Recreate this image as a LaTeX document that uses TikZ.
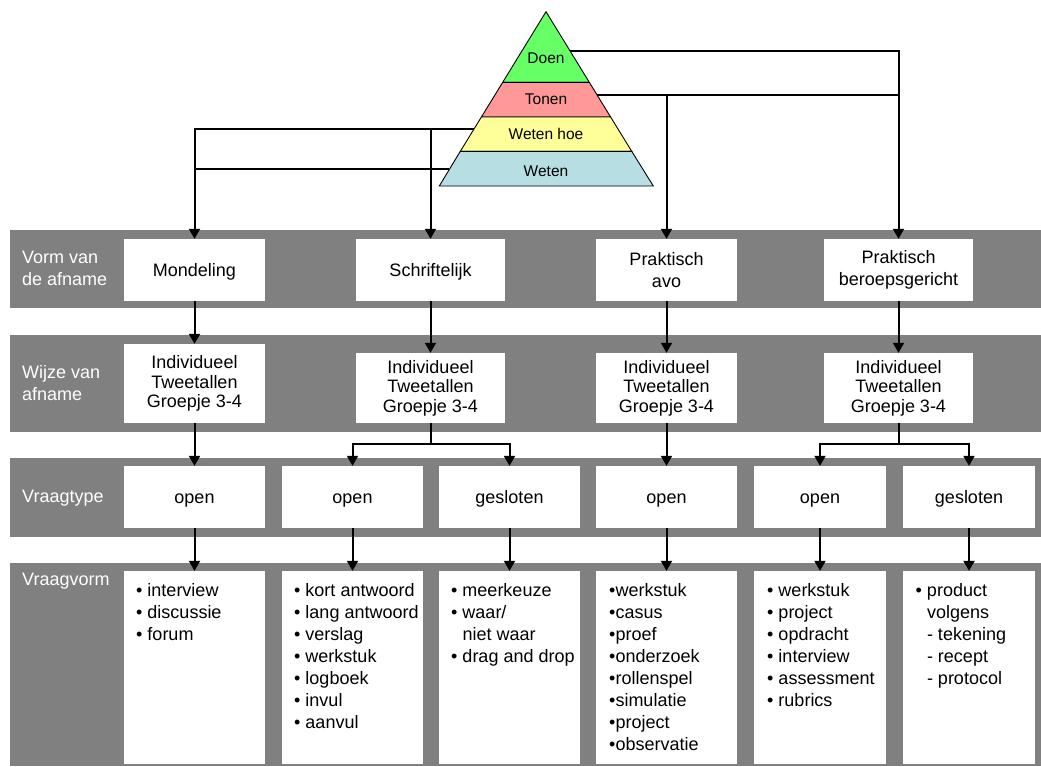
\documentclass[tikz,border=0pt]{standalone}
\usepackage{fontspec}
\setmainfont{Liberation Sans}
\usetikzlibrary{arrows.meta,calc}
\definecolor{bandgray}{RGB}{128,128,128}
\definecolor{doencol}{RGB}{102,255,102}
\definecolor{tonencol}{RGB}{255,153,153}
\definecolor{hoecol}{RGB}{255,255,153}
\definecolor{wetencol}{RGB}{183,222,226}
\begin{document}
\begin{tikzpicture}[x=1pt,y=-1pt,
  band/.style={fill=bandgray,draw=none},
  wbox/.style={fill=white,draw=none,inner sep=0pt,align=center,
    font=\fontsize{18}{22}\selectfont},
  wone/.style={wbox,text height=12.9pt,text depth=0pt},
  wbox2/.style={wbox,font=\fontsize{18}{19.5}\selectfont},
  lbl/.style={text=white,inner sep=0pt,align=left,anchor=west,
    font=\fontsize{18}{22}\selectfont},
  lst/.style={inner sep=0pt,align=left,anchor=north west,
    font=\fontsize{18}{22}\selectfont},
  pyr/.style={draw=black,line width=0.9pt,line join=miter},
  ptxt/.style={inner sep=0pt,font=\fontsize{15.5}{18}\selectfont},
  conn/.style={draw=black,line width=2pt},
  arr/.style={conn,-{Triangle[width=11pt,length=10pt]}}
]
\useasboundingbox (0,0) rectangle (1041,766);

% bands
\fill[band] (10,230) rectangle (1041,308);
\fill[band] (10,335) rectangle (1041,432);
\fill[band] (10,458) rectangle (1041,537);
\fill[band] (10,563) rectangle (1041,766);

% band labels
\node[lbl] (lab1) at (22,268) {Vorm van\\de afname};
\node[lbl] (lab2) at (22,383) {Wijze van\\afname};
\node[lbl] (lab3) at (22,498) {Vraagtype};
\node[lbl,anchor=north west] (lab4) at (22,573) {Vraagvorm};

% pyramid
\filldraw[pyr,fill=doencol] (546,11.7) -- (589.3,82.3) -- (502.7,82.3) -- cycle;
\filldraw[pyr,fill=tonencol] (502.7,82.3) -- (589.3,82.3) -- (610.6,117) -- (481.4,117) -- cycle;
\filldraw[pyr,fill=hoecol] (481.4,117) -- (610.6,117) -- (631.7,151.3) -- (460.3,151.3) -- cycle;
\filldraw[pyr,fill=wetencol] (460.3,151.3) -- (631.7,151.3) -- (653.3,186) -- (439.3,186) -- cycle;
\node[ptxt] (pdoen) at (546,58) {Doen};
\node[ptxt] (ptonen) at (546,99.5) {Tonen};
\node[ptxt] (phoe) at (546,134) {Weten hoe};
\node[ptxt] (pweten) at (546,171.5) {Weten};
\coordinate (doenR) at (570.1,51);
\coordinate (tonenR) at (597.1,95);
\coordinate (hoeL) at (473.8,129.3);
\coordinate (wetenL) at (449.2,169.3);

% row 1
\node[wone,minimum width=141pt,minimum height=62pt] (vA) at (194.5,270) {Mondeling};
\node[wone,minimum width=149pt,minimum height=62pt] (vB) at (430.5,270) {Schriftelijk};
\node[wbox,minimum width=141pt,minimum height=62pt] (vC) at (666.5,270) {Praktisch\\avo};
\node[wbox,minimum width=149pt,minimum height=62pt] (vD) at (898.5,270) {Praktisch\\beroepsgericht};

% row 2
\node[wbox2,minimum width=141pt,minimum height=79pt] (wA) at (194.5,383.5) {Individueel\\Tweetallen\\Groepje 3-4};
\node[wbox2,minimum width=149pt,minimum height=70pt] (wB) at (430.5,388) {Individueel\\Tweetallen\\Groepje 3-4};
\node[wbox2,minimum width=141pt,minimum height=70pt] (wC) at (666.5,388) {Individueel\\Tweetallen\\Groepje 3-4};
\node[wbox2,minimum width=149pt,minimum height=70pt] (wD) at (898.5,388) {Individueel\\Tweetallen\\Groepje 3-4};

% row 3
\node[wone,minimum width=141pt,minimum height=61.5pt] (t1) at (194.5,496.75) {open};
\node[wone,minimum width=141pt,minimum height=61.5pt] (t2) at (352.5,496.75) {open};
\node[wone,minimum width=141pt,minimum height=61.5pt] (t3) at (509.5,496.75) {gesloten};
\node[wone,minimum width=141pt,minimum height=61.5pt] (t4) at (666.5,496.75) {open};
\node[wone,minimum width=132pt,minimum height=61.5pt] (t5) at (820,496.75) {open};
\node[wone,minimum width=132pt,minimum height=61.5pt] (t6) at (969,496.75) {gesloten};

% row 4
\node[wbox,minimum width=141pt,minimum height=193pt] (l1) at (194.5,667.5) {};
\node[wbox,minimum width=141pt,minimum height=193pt] (l2) at (352.5,667.5) {};
\node[wbox,minimum width=141pt,minimum height=193pt] (l3) at (509.5,667.5) {};
\node[wbox,minimum width=141pt,minimum height=193pt] (l4) at (666.5,667.5) {};
\node[wbox,minimum width=132pt,minimum height=193pt] (l5) at (820,667.5) {};
\node[wbox,minimum width=132pt,minimum height=193pt] (l6) at (969,667.5) {};

\node[lst] (x1) at (136,583) {• interview\\• discussie\\• forum};
\node[lst] (x2) at (294,583) {• kort antwoord\\• lang antwoord\\• verslag\\• werkstuk\\• logboek\\• invul\\• aanvul};
\node[lst] (x3) at (451,583) {• meerkeuze\\• waar/\\\phantom{• }niet waar\\• drag and drop};
\node[lst] (x4) at (609,583) {•werkstuk\\•casus\\•proef\\•onderzoek\\•rollenspel\\•simulatie\\•project\\•observatie};
\node[lst] (x5) at (767,583) {• werkstuk\\• project\\• opdracht\\• interview\\• assessment\\• rubrics};
\node[lst] (x6) at (915.5,583) {• product\\\phantom{• }volgens\\\phantom{• }- tekening\\\phantom{• }- recept\\\phantom{• }- protocol};

% connectors from pyramid
\draw[arr] (doenR) -| (vD.north);
\draw[conn] (tonenR) -- (tonenR -| vD.north);
\draw[arr] (tonenR -| vC.north) -- (vC.north);
\draw[arr] (hoeL) -| (vA.north);
\draw[arr] (hoeL -| vB.north) -- (vB.north);
\draw[conn] (wetenL) -- (wetenL -| vA.north);

% row 1 -> row 2
\draw[arr] (vA.south) -- (wA.north);
\draw[arr] (vB.south) -- (wB.north);
\draw[arr] (vC.south) -- (wC.north);
\draw[arr] (vD.south) -- (wD.north);

% row 2 -> row 3
\coordinate (sB) at ($(wB.south)+(0,21)$);
\coordinate (sD) at ($(wD.south)+(0,21)$);
\draw[arr] (wA.south) -- (t1.north);
\draw[conn] (wB.south) -- (sB);
\draw[arr] (sB) -| (t2.north);
\draw[arr] (sB) -| (t3.north);
\draw[arr] (wC.south) -- (t4.north);
\draw[conn] (wD.south) -- (sD);
\draw[arr] (sD) -| (t5.north);
\draw[arr] (sD) -| (t6.north);

% row 3 -> row 4
\draw[arr] (t1.south) -- (l1.north);
\draw[arr] (t2.south) -- (l2.north);
\draw[arr] (t3.south) -- (l3.north);
\draw[arr] (t4.south) -- (l4.north);
\draw[arr] (t5.south) -- (l5.north);
\draw[arr] (t6.south) -- (l6.north);
\end{tikzpicture}
\end{document}
